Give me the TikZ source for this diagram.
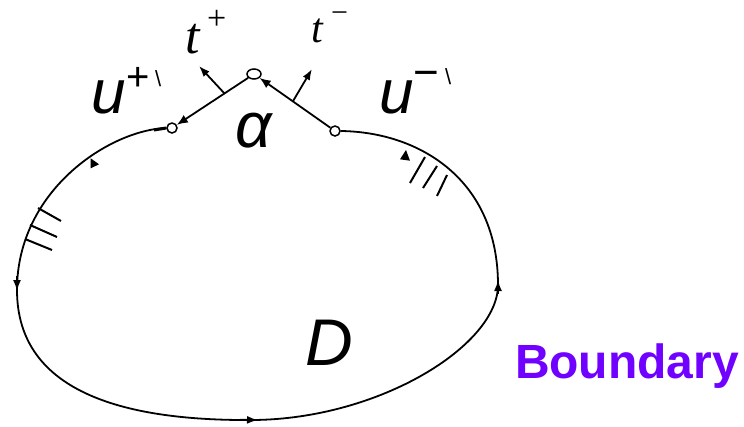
\documentclass[tikz,border=0pt]{standalone}
\usepackage{fontspec}
\setmainfont{Liberation Serif}
\newfontfamily\sansfam{Liberation Sans}
\usetikzlibrary{arrows.meta,shapes.geometric,calc}
\definecolor{bndpurple}{RGB}{112,0,255}
\begin{document}
\begin{tikzpicture}[x=1pt,y=-1pt,
  curve/.style={line width=1.8pt},
  chord/.style={line width=1.8pt,-{Latex[length=11pt,width=9pt]}},
  tip/.style={line width=1.8pt,-{Latex[length=11pt,width=8pt]}},
  hash/.style={line width=2pt},
  pt/.style={circle,draw,line width=1.5pt,fill=white,minimum size=10pt,inner sep=0pt},
  lbl/.style={anchor=base west,inner sep=0pt,outer sep=0pt}]
\useasboundingbox (0,0) rectangle (744,426);
% end points
\node[pt] (L) at (172,128) {};
\node[pt,ellipse,minimum width=14pt,minimum height=10pt] (A) at (254,74) {};
\node[pt] (R) at (335,131) {};
% boundary curve
\coordinate (w) at (17,290);
\coordinate (s) at (253,420);
\coordinate (e) at (498,285);
\draw[curve] (L.west) .. controls (110,130) and (17,190) .. (w)
  .. controls (17,395) and (130,421) .. (s)
  .. controls (380,419) and (498,345) .. (e)
  .. controls (498,180) and (420,132) .. (R.east);
\draw[line width=3pt] (L.west) -- (154,130);
% chords
\draw[chord] (A) -- (L);
\draw[chord] (R) -- (A);
% normals
\coordinate (n1) at ($(A)!0.36!(L)$);
\coordinate (n1e) at (199,66);
\coordinate (n2) at ($(A)!0.48!(R)$);
\coordinate (n2e) at (312,69);
\draw[tip] (n1) -- (n1e);
\draw[tip] (n2) -- (n2e);
% arrows on curve
\coordinate (la1) at (17,276); \coordinate (la2) at (17,291);
\coordinate (ra1) at (498,294); \coordinate (ra2) at (498,280);
\coordinate (ba1) at (240,419.8); \coordinate (ba2) at (258,420);
\draw[tip] (la1) -- (la2);
\draw[tip] (ra1) -- (ra2);
\draw[tip] (ba1) -- (ba2);
% free triangles
\fill (90.7,158.3) -- (99,164.3) -- (90.7,168.3) -- cycle;
\fill (406,150) -- (400,159.3) -- (410,160.7) -- cycle;
% hash marks
\draw[hash] (38,208) -- (61,221);
\draw[hash] (30,225) -- (57,237);
\draw[hash] (25,239) -- (52,250);
\draw[hash] (425,157) -- (410,183);
\draw[hash] (437,166) -- (423,188);
\draw[hash] (447,175) -- (437,196);
% labels
\node[lbl] (tp) at (185,53) {\fontsize{52}{52}\selectfont\itshape t};
\node[lbl] (tps) at (207,29) {\fontsize{34}{34}\selectfont\smash{+}};
\node[lbl] (tm) at (311,42) {\fontsize{42}{42}\selectfont\itshape t};
\node[lbl] (tms) at (331,22) {\fontsize{30}{30}\selectfont\smash{−}};
\node[lbl] (up) at (91,113) {\sansfam\fontsize{62}{62}\selectfont\itshape u};
\node[lbl] (ups) at (126,90) {\sansfam\fontsize{40}{40}\selectfont +};
\node[lbl] (upb) at (155,86) {\sansfam\fontsize{22}{22}\selectfont\textbackslash};
\node[lbl] (um) at (379,113) {\sansfam\fontsize{62}{62}\selectfont\itshape u};
\node[lbl] (ums) at (413,87) {\sansfam\fontsize{44}{44}\selectfont −};
\node[lbl] (umb) at (445,84) {\sansfam\fontsize{22}{22}\selectfont\textbackslash};
\node[lbl] (al) at (235,147) {\sansfam\fontsize{64}{64}\selectfont\itshape α};
\node[lbl] (D) at (305,365) {\sansfam\fontsize{66}{66}\selectfont\itshape D};
\node[lbl,text=bndpurple] (B) at (515,378) {\sansfam\bfseries\fontsize{48}{48}\selectfont Boundary};
\end{tikzpicture}
\end{document}
